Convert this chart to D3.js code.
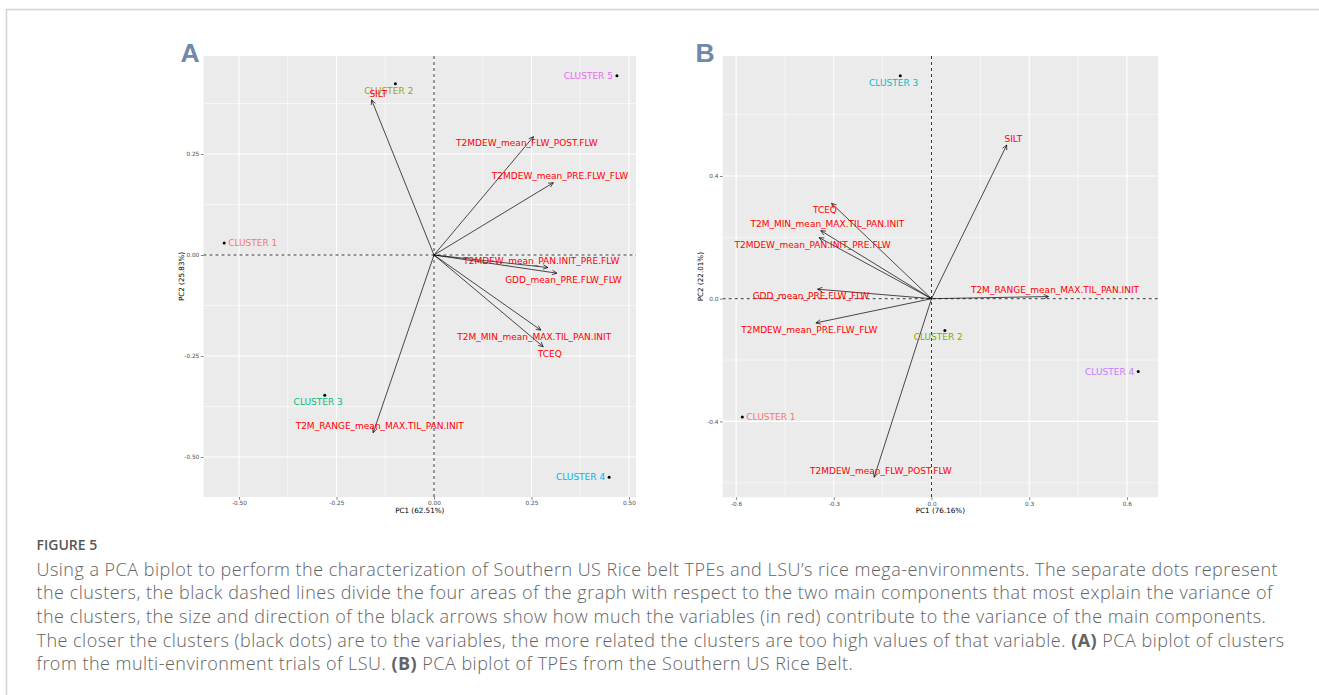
<!DOCTYPE html>
<html>
<head>
<meta charset="utf-8">
<script src="https://cdn.jsdelivr.net/npm/d3@7"></script>
<style>
  html, body { margin: 0; padding: 0; background: #fff; }
  svg { display: block; }
</style>
</head>
<body>
<svg id="fig" width="1319" height="695"></svg>
<script>
// ---- Panel A: clusters from the LSU multi-environment trials ----
const clusterNamesA = ["CLUSTER 1", "CLUSTER 2", "CLUSTER 3", "CLUSTER 4", "CLUSTER 5"];
const clusterPC1A   = [-0.538, -0.099, -0.280, 0.449, 0.469];
const clusterPC2A   = [0.030, 0.424, -0.347, -0.550, 0.444];

const varNamesA = ["SILT", "T2MDEW_mean_FLW_POST.FLW", "T2MDEW_mean_PRE.FLW_FLW",
                   "T2MDEW_mean_PAN.INIT_PRE.FLW", "GDD_mean_PRE.FLW_FLW",
                   "T2M_MIN_mean_MAX.TIL_PAN.INIT", "TCEQ", "T2M_RANGE_mean_MAX.TIL_PAN.INIT"];
const varPC1A = [-0.160, 0.255, 0.306, 0.292, 0.315, 0.274, 0.280, -0.156];
const varPC2A = [0.384, 0.293, 0.179, -0.031, -0.045, -0.186, -0.227, -0.440];

const pc1TicksA = [-0.50, -0.25, 0.00, 0.25, 0.50];
const pc2TicksA = [-0.50, -0.25, 0.00, 0.25];
const axisTitlesA = ["PC1 (62.51%)", "PC2 (25.83%)"];

// ---- Panel B: TPEs of the Southern US Rice Belt ----
const clusterNamesB = ["CLUSTER 1", "CLUSTER 2", "CLUSTER 3", "CLUSTER 4"];
const clusterPC1B   = [-0.581, 0.041, -0.096, 0.635];
const clusterPC2B   = [-0.386, -0.104, 0.727, -0.237];

const varNamesB = ["SILT", "TCEQ", "T2M_MIN_mean_MAX.TIL_PAN.INIT", "T2MDEW_mean_PAN.INIT_PRE.FLW",
                   "GDD_mean_PRE.FLW_FLW", "T2MDEW_mean_PRE.FLW_FLW",
                   "T2M_RANGE_mean_MAX.TIL_PAN.INIT", "T2MDEW_mean_FLW_POST.FLW"];
const varPC1B = [0.231, -0.307, -0.340, -0.345, -0.350, -0.355, 0.359, -0.176];
const varPC2B = [0.501, 0.311, 0.222, 0.199, 0.031, -0.079, 0.007, -0.582];

const pc1TicksB = [-0.6, -0.3, 0.0, 0.3, 0.6];
const pc2TicksB = [-0.4, 0.0, 0.4];
const axisTitlesB = ["PC1 (76.16%)", "PC2 (22.01%)"];

// ggplot default hue palettes for 5 and 4 groups
const paletteA = ["#F8766D", "#A3A500", "#00BF7D", "#00B0F6", "#E76BF3"];
const paletteB = ["#F8766D", "#7CAE00", "#00BFC4", "#C77CFF"];

// Label placement (repelled text): diagonal side of the arrow tip, and side of the cluster dot
const varSideA = [[1,-1],[-1,1],[1,-1],[-1,-1],[1,1],[-1,1],[1,1],[1,-1]];
const clusterSideA = ["right", [-1,1], [-1,1], "left", "left"];
const varSideB = [[1,-1],[-1,1],[1,-1],[-1,1],[-1,1],[-1,1],[1,-1],[1,-1]];
const clusterSideB = ["right", [-1,1], [-1,1], "left"];

const svg = d3.select("#fig");
const FONT = "'DejaVu Sans', sans-serif";

// figure frame
svg.append("path")
  .attr("d", "M6.5,695 V9.5 H1319")
  .attr("fill", "none").attr("stroke", "#d3d3d3").attr("stroke-width", 1.5);

function minorTicks(major, domain) {
  const step = major[1] - major[0];
  const out = [];
  for (let v = major[0] - step / 2; v <= domain[1] + 1e-9; v += step) {
    if (v >= domain[0] - 1e-9) out.push(+v.toFixed(6));
  }
  return out;
}

// tick labels with a plain hyphen for negatives
const hyphen = f => v => f(v).replace("\u2212", "-");

function drawPanel(cfg) {
  const x = d3.scaleLinear().domain(cfg.xDomain).range([cfg.left, cfg.right]);
  const y = d3.scaleLinear().domain(cfg.yDomain).range([cfg.bottom, cfg.top]);
  const g = svg.append("g");

  // panel letter
  svg.append("text")
    .attr("x", cfg.letterX).attr("y", 62)
    .attr("font-family", "'Liberation Sans', Arial, sans-serif")
    .attr("font-weight", "bold").attr("font-size", 26.5)
    .attr("fill", "#7089ab").text(cfg.letter);

  // panel background
  g.append("rect")
    .attr("x", cfg.left).attr("y", cfg.top)
    .attr("width", cfg.right - cfg.left).attr("height", cfg.bottom - cfg.top)
    .attr("fill", "#EBEBEB");

  // minor grid
  minorTicks(cfg.xTicks, cfg.xDomain).forEach(v => {
    g.append("line").attr("x1", x(v)).attr("x2", x(v)).attr("y1", cfg.top).attr("y2", cfg.bottom)
      .attr("stroke", "#fff").attr("stroke-width", 0.55);
  });
  minorTicks(cfg.yTicks, cfg.yDomain).forEach(v => {
    g.append("line").attr("y1", y(v)).attr("y2", y(v)).attr("x1", cfg.left).attr("x2", cfg.right)
      .attr("stroke", "#fff").attr("stroke-width", 0.55);
  });

  // major grid
  cfg.xTicks.forEach(v => {
    g.append("line").attr("x1", x(v)).attr("x2", x(v)).attr("y1", cfg.top).attr("y2", cfg.bottom)
      .attr("stroke", "#fff").attr("stroke-width", 1.1);
  });
  cfg.yTicks.forEach(v => {
    g.append("line").attr("y1", y(v)).attr("y2", y(v)).attr("x1", cfg.left).attr("x2", cfg.right)
      .attr("stroke", "#fff").attr("stroke-width", 1.1);
  });

  // axes
  const xAxis = d3.axisBottom(x).tickValues(cfg.xTicks).tickFormat(hyphen(cfg.fmt)).tickSize(2.7).tickPadding(1.5);
  const yAxis = d3.axisLeft(y).tickValues(cfg.yTicks).tickFormat(hyphen(cfg.fmt)).tickSize(2.7).tickPadding(1.5);
  const gx = svg.append("g").attr("transform", `translate(0,${cfg.bottom})`).call(xAxis);
  const gy = svg.append("g").attr("transform", `translate(${cfg.left},0)`).call(yAxis);
  [gx, gy].forEach(a => {
    a.select(".domain").remove();
    a.selectAll(".tick line").attr("stroke", "#333").attr("stroke-width", 0.6);
    a.selectAll(".tick text").attr("font-family", FONT).attr("font-size", 5.8).attr("fill", "#4D4D4D");
  });

  // axis titles
  svg.append("text")
    .attr("x", (cfg.left + cfg.right) / 2).attr("y", cfg.bottom + 15.5)
    .attr("text-anchor", "middle").attr("font-family", FONT).attr("font-size", 7.2)
    .attr("fill", "#000").text(cfg.titles[0]);
  svg.append("text")
    .attr("transform", `translate(${cfg.left - 19.5},${(cfg.top + cfg.bottom) / 2}) rotate(-90)`)
    .attr("text-anchor", "middle").attr("font-family", FONT).attr("font-size", 7.2)
    .attr("fill", "#000").text(cfg.titles[1]);

  // dashed reference lines through the origin
  g.append("line").attr("x1", x(0)).attr("x2", x(0)).attr("y1", cfg.top).attr("y2", cfg.bottom)
    .attr("stroke", "#222").attr("stroke-width", 0.9).attr("stroke-dasharray", "3,3");
  g.append("line").attr("y1", y(0)).attr("y2", y(0)).attr("x1", cfg.left).attr("x2", cfg.right)
    .attr("stroke", "#222").attr("stroke-width", 0.9).attr("stroke-dasharray", "3,3");

  // variable arrows
  const nudge = 6.6;
  const head = 5.2, ang = Math.PI / 7;
  cfg.varNames.forEach((name, i) => {
    const x0 = x(0), y0 = y(0), x1 = x(cfg.varPC1[i]), y1 = y(cfg.varPC2[i]);
    g.append("line").attr("x1", x0).attr("y1", y0).attr("x2", x1).attr("y2", y1)
      .attr("stroke", "#000").attr("stroke-width", 0.7);
    const th = Math.atan2(y1 - y0, x1 - x0);
    const pts = [th + Math.PI - ang, th + Math.PI + ang].map(a => [x1 + head * Math.cos(a), y1 + head * Math.sin(a)]);
    g.append("path")
      .attr("d", `M${pts[0][0]},${pts[0][1]} L${x1},${y1} L${pts[1][0]},${pts[1][1]}`)
      .attr("fill", "none").attr("stroke", "#000").attr("stroke-width", 0.7);
  });

  // cluster points and labels
  cfg.clusterNames.forEach((name, i) => {
    const cx = x(cfg.clusterPC1[i]), cy = y(cfg.clusterPC2[i]);
    g.append("circle").attr("cx", cx).attr("cy", cy).attr("r", 1.5).attr("fill", "#000");
    const side = cfg.clusterSide[i];
    const t = g.append("text").attr("font-family", FONT).attr("font-size", 9)
      .attr("fill", cfg.palette[i]).attr("dy", "0.36em").text(name);
    if (side === "right") t.attr("x", cx + 4).attr("y", cy).attr("text-anchor", "start");
    else if (side === "left") t.attr("x", cx - 4).attr("y", cy).attr("text-anchor", "end");
    else t.attr("x", cx + side[0] * nudge).attr("y", cy + side[1] * nudge).attr("text-anchor", "middle");
  });

  // variable labels
  cfg.varNames.forEach((name, i) => {
    const s = cfg.varSide[i];
    g.append("text")
      .attr("x", x(cfg.varPC1[i]) + s[0] * nudge).attr("y", y(cfg.varPC2[i]) + s[1] * nudge)
      .attr("dy", "0.36em").attr("text-anchor", "middle")
      .attr("font-family", FONT).attr("font-size", 9).attr("fill", "#FF0000").text(name);
  });
}

drawPanel({
  letter: "A", letterX: 180.5,
  left: 203.5, right: 636, top: 56, bottom: 497,
  xDomain: [-0.5910, 0.5179], yDomain: [-0.5990, 0.4926],
  xTicks: pc1TicksA, yTicks: pc2TicksA, fmt: d3.format(".2f"), titles: axisTitlesA,
  clusterNames: clusterNamesA, clusterPC1: clusterPC1A, clusterPC2: clusterPC2A,
  varNames: varNamesA, varPC1: varPC1A, varPC2: varPC2A,
  palette: paletteA, varSide: varSideA, clusterSide: clusterSideA
});

drawPanel({
  letter: "B", letterX: 695.5,
  left: 722.7, right: 1158, top: 56, bottom: 497.3,
  xDomain: [-0.6413, 0.6956], yDomain: [-0.6475, 0.7913],
  xTicks: pc1TicksB, yTicks: pc2TicksB, fmt: d3.format(".1f"), titles: axisTitlesB,
  clusterNames: clusterNamesB, clusterPC1: clusterPC1B, clusterPC2: clusterPC2B,
  varNames: varNamesB, varPC1: varPC1B, varPC2: varPC2B,
  palette: paletteB, varSide: varSideB, clusterSide: clusterSideB
});

// ---- caption ----
const captionTitle = "FIGURE 5";
const captionLines = [
  [["Using a PCA biplot to perform the characterization of Southern US Rice belt TPEs and LSU’s rice mega-environments. The separate dots represent", false]],
  [["the clusters, the black dashed lines divide the four areas of the graph with respect to the two main components that most explain the variance of", false]],
  [["the clusters, the size and direction of the black arrows show how much the variables (in red) contribute to the variance of the main components.", false]],
  [["The closer the clusters (black dots) are to the variables, the more related the clusters are too high values of that variable. ", false], ["(A)", true], [" PCA biplot of clusters", false]],
  [["from the multi-environment trials of LSU. ", false], ["(B)", true], [" PCA biplot of TPEs from the Southern US Rice Belt.", false]]
];

svg.append("text")
  .attr("x", 36.5).attr("y", 549.5)
  .attr("font-family", "'Open Sans', sans-serif").attr("font-weight", 600)
  .attr("font-size", 14).attr("fill", "#575757").text(captionTitle);

captionLines.forEach((parts, i) => {
  const t = svg.append("text")
    .attr("x", 36.5).attr("y", 575.7 + i * 23.65)
    .attr("font-family", "'Open Sans', sans-serif").attr("font-weight", 300)
    .attr("font-size", 18).attr("letter-spacing", 0.48).attr("fill", "#636363");
  parts.forEach(([s, bold]) => {
    t.append("tspan").attr("font-weight", bold ? 700 : 300).text(s);
  });
});
</script>
</body>
</html>
